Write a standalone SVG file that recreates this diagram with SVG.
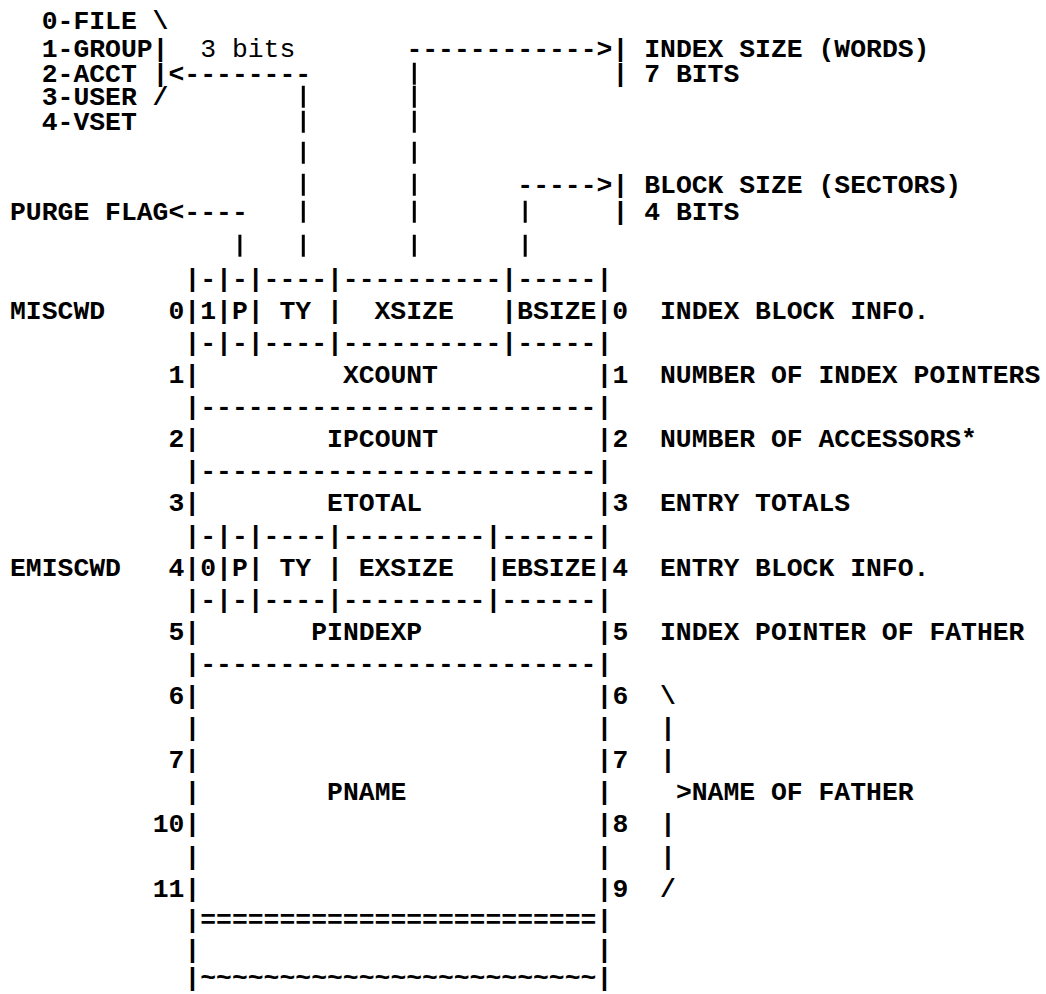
<svg xmlns="http://www.w3.org/2000/svg" width="1046" height="994" viewBox="0 0 1046 994" xml:space="preserve">
<style>
text{font-family:"Liberation Mono","Courier New",monospace;font-size:26.42px;font-weight:bold;fill:#000;white-space:pre}
.n{font-weight:normal}
.bar{fill:none;stroke:#000;stroke-width:3}
</style>
<rect width="1046" height="994" fill="#fff"/>
<g id="type-legend">
<text x="41.7" y="28.7">0-FILE \</text>
<text x="41.7" y="56.7">1-GROUP|</text>
<text x="200.2" y="56.7" class="n">3 bits</text>
<text x="41.7" y="81.7">2-ACCT |</text>
<text x="41.7" y="104.7">3-USER /</text>
<text x="41.7" y="129.7">4-VSET</text>
</g>
<g id="purge-flag"><text x="10" y="219.7">PURGE FLAG</text></g>
<g id="index-size">
<text x="612.5" y="56.7">| INDEX SIZE (WORDS)</text>
<text x="612.5" y="81.7">| 7 BITS</text>
</g>
<g id="block-size">
<text x="612.5" y="192.7">| BLOCK SIZE (SECTORS)</text>
<text x="612.5" y="219.7">| 4 BITS</text>
</g>
<g id="connectors">
<text x="406.4" y="56.7">------------&gt;</text>
<text x="168.5" y="81.7">&lt;--------</text>
<text x="517.3" y="192.7">-----&gt;</text>
<text x="168.5" y="219.7">&lt;----</text>
<path class="bar" d="M303.3 85.7V107.7M303.3 110.7V132.7M303.3 141.7V163.7M303.3 173.7V195.7M303.3 200.7V222.7M303.3 234.7V256.7"/>
<path class="bar" d="M414.3 62.7V84.7M414.3 85.7V107.7M414.3 110.7V132.7M414.3 141.7V163.7M414.3 173.7V195.7M414.3 200.7V222.7M414.3 234.7V256.7"/>
<path class="bar" d="M525.2 200.7V222.7M525.2 234.7V256.7"/>
<path class="bar" d="M239.9 234.7V256.7"/>
<text x="660" y="736.1">|</text>
<text x="660" y="768.2">|</text>
<text x="660" y="832.4">|</text>
<text x="660" y="864.5">|</text>
</g>
<g id="word-0-miscwd">
<text x="184.4" y="286.7">|-|-|----|----------|-----|</text>
<text x="10" y="318.8">MISCWD</text>
<text x="168.5" y="318.8">0|1|P| TY |  XSIZE   |BSIZE|0</text>
<text x="660" y="318.8">INDEX BLOCK INFO.</text>
<text x="184.4" y="350.9">|-|-|----|----------|-----|</text>
</g>
<g id="word-1-xcount">
<text x="168.5" y="383">1|</text>
<text x="342.9" y="383">XCOUNT</text>
<text x="596.6" y="383">|1</text>
<text x="660" y="383">NUMBER OF INDEX POINTERS</text>
<text x="184.4" y="415.1">|-------------------------|</text>
</g>
<g id="word-2-ipcount">
<text x="168.5" y="447.2">2|</text>
<text x="327.1" y="447.2">IPCOUNT</text>
<text x="596.6" y="447.2">|2</text>
<text x="660" y="447.2">NUMBER OF ACCESSORS*</text>
<text x="184.4" y="479.3">|-------------------------|</text>
</g>
<g id="word-3-etotal">
<text x="168.5" y="511.4">3|</text>
<text x="327.1" y="511.4">ETOTAL</text>
<text x="596.6" y="511.4">|3</text>
<text x="660" y="511.4">ENTRY TOTALS</text>
</g>
<g id="word-4-emiscwd">
<text x="184.4" y="543.5">|-|-|----|---------|------|</text>
<text x="10" y="575.6">EMISCWD</text>
<text x="168.5" y="575.6">4|0|P| TY | EXSIZE  |EBSIZE|4</text>
<text x="660" y="575.6">ENTRY BLOCK INFO.</text>
<text x="184.4" y="607.7">|-|-|----|---------|------|</text>
</g>
<g id="word-5-pindexp">
<text x="168.5" y="639.8">5|</text>
<text x="311.2" y="639.8">PINDEXP</text>
<text x="596.6" y="639.8">|5</text>
<text x="660" y="639.8">INDEX POINTER OF FATHER</text>
<text x="184.4" y="671.9">|-------------------------|</text>
</g>
<g id="words-6-9-pname">
<text x="168.5" y="704">6|</text><text x="596.6" y="704">|6</text>
<text x="184.4" y="736.1">|</text><text x="596.6" y="736.1">|</text>
<text x="168.5" y="768.2">7|</text><text x="596.6" y="768.2">|7</text>
<text x="184.4" y="800.3">|</text><text x="327.1" y="800.3">PNAME</text><text x="596.6" y="800.3">|</text>
<text x="152.7" y="832.4">10|</text><text x="596.6" y="832.4">|8</text>
<text x="184.4" y="864.5">|</text><text x="596.6" y="864.5">|</text>
<text x="152.7" y="896.6">11|</text><text x="596.6" y="896.6">|9</text>
<text x="184.4" y="927.7">|=========================|</text>
<text x="184.4" y="957.8">|</text><text x="596.6" y="957.8">|</text>
<text x="184.4" y="986">|~~~~~~~~~~~~~~~~~~~~~~~~~|</text>
</g>
<g id="name-of-father">
<text x="660" y="704">\</text>
<text x="675.9" y="800.3">&gt;NAME OF FATHER</text>
<text x="660" y="896.6">/</text>
</g>
</svg>
